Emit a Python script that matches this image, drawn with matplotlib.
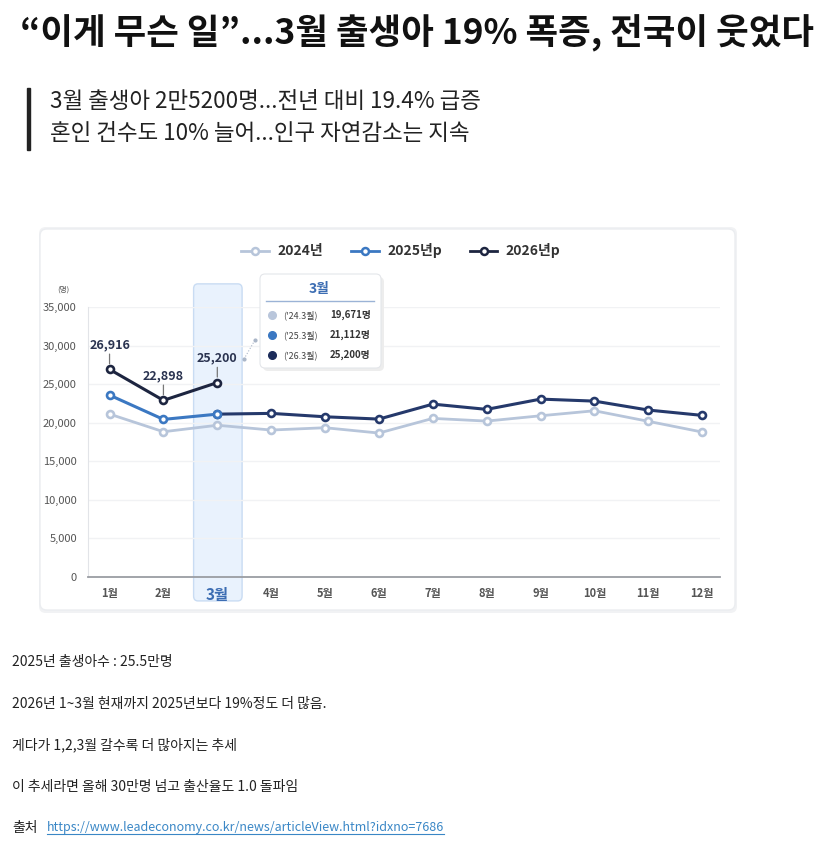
import matplotlib
matplotlib.use("Agg")
import matplotlib.pyplot as plt
from matplotlib.patches import FancyBboxPatch, Rectangle
from matplotlib.lines import Line2D

plt.rcParams['font.family'] = ['Noto Sans CJK KR', 'DejaVu Sans']

months = list(range(1, 13))
month_labels = [f"{m}월" for m in months]
births_2024 = [21120, 18830, 19671, 19050, 19350, 18660, 20560, 20210, 20900, 21550, 20180, 18790]
births_2025 = [23580, 20430, 21112, 21210, 20770, 20470, 22410, 21730, 23060, 22800, 21640, 20950]
births_2026 = [26916, 22898, 25200]
series_names = ["2024년", "2025년p", "2026년p"]

title = "“이게 무슨 일”...3월 출생아 19% 폭증, 전국이 웃었다"
subtitle = ["3월 출생아 2만5200명...전년 대비 19.4% 급증",
            "혼인 건수도 10% 늘어...인구 자연감소는 지속"]
body = ["2025년 출생아수 : 25.5만명",
        "2026년 1~3월 현재까지 2025년보다 19%정도 더 많음.",
        "게다가 1,2,3월 갈수록 더 많아지는 추세",
        "이 추세라면 올해 30만명 넘고 출산율도 1.0 돌파임"]
link = "https://www.leadeconomy.co.kr/news/articleView.html?idxno=7686"

c24 = "#b7c5da"
c25 = "#3b78c2"
c25b = "#25396b"
c26 = "#1d2540"

W, H = 834, 850
fig = plt.figure(figsize=(W / 100, H / 100), dpi=100)


def fx(x):
    return x / W


def fy(y):
    return 1 - y / H


# header
fig.text(fx(20), fy(33), title, fontsize=25.5, fontweight='bold', color='#111',
         va='center', ha='left')
fig.add_artist(Rectangle((fx(27), fy(150)), 3 / W, 62 / H, color='#222',
                         transform=fig.transFigure))
fig.text(fx(50), fy(102), subtitle[0], fontsize=16.2, color='#222', va='center')
fig.text(fx(50), fy(133), subtitle[1], fontsize=16.2, color='#222', va='center')

# chart panel
fig.add_artist(FancyBboxPatch((fx(39), fy(613)), fx(737) - fx(39), fy(227) - fy(613),
                              boxstyle="round,pad=0,rounding_size=0.008",
                              transform=fig.transFigure, facecolor='#f1f2f4',
                              edgecolor='none', zorder=0))
fig.add_artist(FancyBboxPatch((fx(40), fy(610)), fx(735) - fx(40), fy(229) - fy(610),
                              boxstyle="round,pad=0,rounding_size=0.008",
                              transform=fig.transFigure, facecolor='white',
                              edgecolor='#ebedf0', lw=1, zorder=0))

ax = fig.add_axes([fx(88), fy(577), fx(720) - fx(88), fy(307) - fy(577)])
ax.set_xlim(0.6, 12.33)
ax.set_ylim(0, 35000)
ax.patch.set_alpha(0)

# highlight band for March
ax.add_patch(FancyBboxPatch((2.56, -3100), 0.9, 41100,
                            boxstyle="round,pad=0,rounding_size=0.08",
                            mutation_aspect=8000,
                            facecolor='#e9f2fd', edgecolor='#c9dcf3', lw=1,
                            clip_on=False, zorder=0))

ax.set_yticks(range(0, 35001, 5000))
ax.set_yticklabels([f"{v:,}" for v in range(0, 35001, 5000)])
ax.grid(axis='y', color='#f1f2f4', lw=1)
ax.set_axisbelow(True)
for s in ['top', 'right']:
    ax.spines[s].set_visible(False)
ax.spines['left'].set_color('#e2e4e8')
ax.spines['bottom'].set_color('#9a9da3')
ax.spines['bottom'].set_linewidth(1.3)
ax.tick_params(axis='y', length=0, labelsize=8, labelcolor='#555', pad=8)
ax.tick_params(axis='x', length=0, labelsize=8, labelcolor='#555', pad=7)
ax.set_xticks(months)
ax.set_xticklabels(month_labels, fontweight='bold')
lab3 = ax.get_xticklabels()[2]
lab3.set_fontsize(11)
lab3.set_color('#3c6db3')
ax.text(-0.03, 1.065, "(명)", transform=ax.transAxes, fontsize=5.5, color='#555',
        ha='right', va='center')

mk = dict(marker='o', markersize=5, markerfacecolor='white', markeredgewidth=1.9)
ax.plot(months, births_2024, color=c24, lw=2, markeredgecolor=c24, **mk, zorder=3)
ax.plot(months[2:], births_2025[2:], color=c25b, lw=2.2, markeredgecolor=c25b, **mk, zorder=4)
ax.plot(months[:3], births_2025[:3], color=c25, lw=2.2, markeredgecolor=c25, **mk, zorder=5)
ax.plot(months[:3], births_2026, color=c26, lw=2.2, markeredgecolor=c26, **mk, zorder=6)

for m, v in zip(months[:3], births_2026):
    ax.annotate(f"{v:,}", (m, v), xytext=(0, 13), textcoords='offset points',
                ha='center', va='bottom', fontsize=9, fontweight='bold', color='#2a3350',
                arrowprops=dict(arrowstyle='-', color='#777', lw=0.9, shrinkA=0, shrinkB=4))

# legend
handles = [Line2D([], [], color=c, lw=2, marker='o', markersize=5,
                  markerfacecolor='white', markeredgecolor=c, markeredgewidth=1.8)
           for c in [c24, c25, c26]]
leg = fig.legend(handles, series_names, ncol=3, loc='center',
                 bbox_to_anchor=(fx(401), fy(251)), frameon=False,
                 handlelength=2.0, columnspacing=2.0, handletextpad=0.6,
                 prop={'size': 10, 'weight': 'bold'})
for t in leg.get_texts():
    t.set_color('#333')

# tooltip box
fig.add_artist(FancyBboxPatch((fx(263), fy(371)), fx(384) - fx(263), fy(277) - fy(371),
                              boxstyle="round,pad=0,rounding_size=0.006",
                              transform=fig.transFigure, facecolor='#ededed',
                              edgecolor='none', zorder=5))
fig.add_artist(FancyBboxPatch((fx(260), fy(368)), fx(381) - fx(260), fy(274) - fy(368),
                              boxstyle="round,pad=0,rounding_size=0.006",
                              transform=fig.transFigure, facecolor='white',
                              edgecolor='#e4e6ea', lw=0.8, zorder=6))
fig.text(fx(319), fy(289), month_labels[2], fontsize=10, fontweight='bold', color='#3c6db3',
         ha='center', va='center', zorder=7)
fig.add_artist(Line2D([fx(266), fx(374)], [fy(301), fy(301)], color='#9bb3d6', lw=1,
                      transform=fig.transFigure, zorder=7))
tip_colors = ['#b9c6db', '#3b78c2', '#1c2c5a']
tip_vals = [births_2024[2], births_2025[2], births_2026[2]]
for i, (yr, c, v) in enumerate(zip(["'24.3월", "'25.3월", "'26.3월"], tip_colors, tip_vals)):
    yy = fy(315 + 20 * i)
    fig.add_artist(Line2D([fx(272)], [yy], marker='o', markersize=5.5, color=c,
                          transform=fig.transFigure, zorder=7))
    fig.text(fx(283), yy, f"({yr})", fontsize=6.5, color='#444', va='center', zorder=7)
    fig.text(fx(330), yy, f"{v:,}명", fontsize=7, fontweight='bold', color='#333',
             va='center', zorder=7)
fig.add_artist(Line2D([fx(244), fx(255)], [fy(359), fy(340)], color='#aab6c8', lw=0.8,
                      ls=':', marker='o', markersize=2, transform=fig.transFigure, zorder=7))

# body text
for i, line in enumerate(body):
    fig.text(fx(12), fy(662 + 41.5 * i), line, fontsize=10, color='#222', va='center')
fig.text(fx(12), fy(828), "출처", fontsize=10, color='#222', va='center')
lt = fig.text(fx(47), fy(828), link, fontsize=9, color='#3a87c6', va='center')
fig.canvas.draw()
bb = lt.get_window_extent().transformed(fig.transFigure.inverted())
fig.add_artist(Line2D([bb.x0, bb.x1], [bb.y0 + 0.001, bb.y0 + 0.001], color='#3a87c6',
                      lw=0.8, transform=fig.transFigure))

fig.savefig("out.png", dpi=100)
